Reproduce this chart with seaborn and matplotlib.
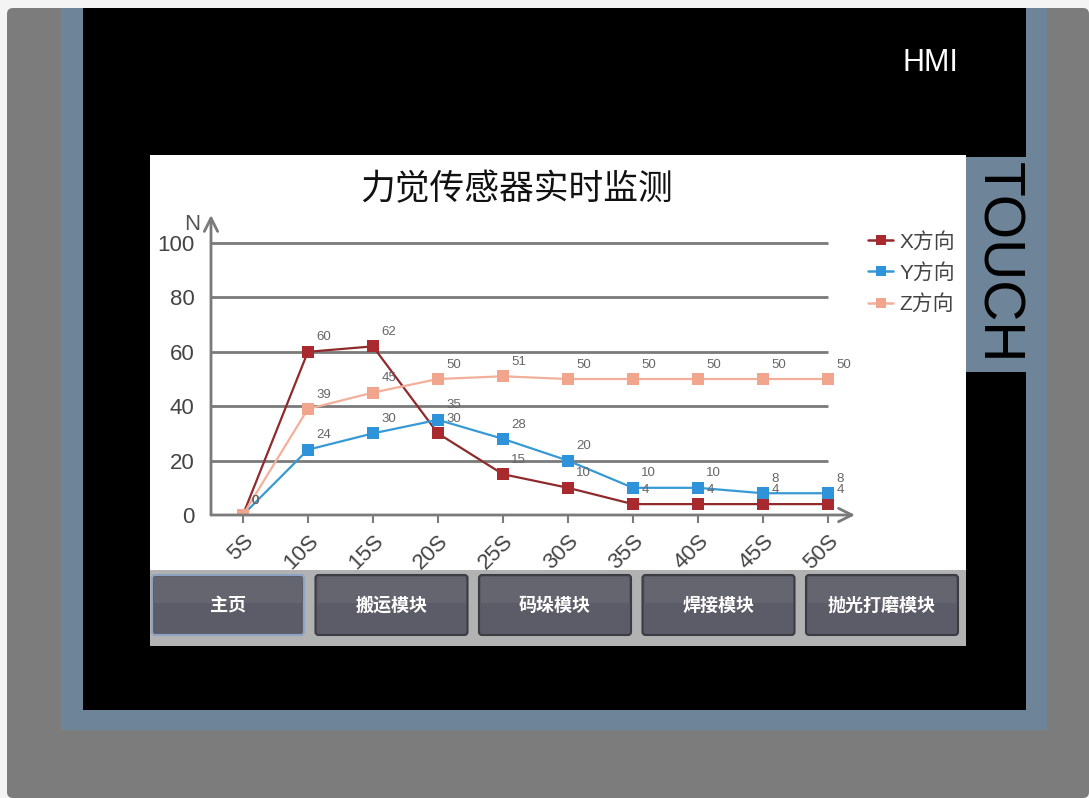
import numpy as np
import pandas as pd
import matplotlib
matplotlib.use('Agg')
import matplotlib.pyplot as plt
import seaborn as sns
from matplotlib.patches import Rectangle, FancyBboxPatch
from matplotlib.lines import Line2D

# ---------------- data ----------------
times = ['5S', '10S', '15S', '20S', '25S', '30S', '35S', '40S', '45S', '50S']
x_force = [0, 60, 62, 30, 15, 10, 4, 4, 4, 4]
y_force = [0, 24, 30, 35, 28, 20, 10, 10, 8, 8]
z_force = [0, 39, 45, 50, 51, 50, 50, 50, 50, 50]
series_names = ['X方向', 'Y方向', 'Z方向']
y_ticks = [0, 20, 40, 60, 80, 100]
title_text = '力觉传感器实时监测'
button_labels = ['主页', '搬运模块', '码垛模块', '焊接模块', '抛光打磨模块']

line_colors = {'X方向': '#8f2a2c', 'Y方向': '#3799d6', 'Z方向': '#f2b09a'}
marker_colors = {'X方向': '#a82a2e', 'Y方向': '#2e93d8', 'Z方向': '#f0a58c'}

sns.set_theme(style='white')
plt.rcParams['font.family'] = ['Liberation Sans', 'Noto Sans CJK SC', 'DejaVu Sans']

W, H = 1089, 798
fig = plt.figure(figsize=(W / 100, H / 100), dpi=100)
fig.patch.set_facecolor('#f4f4f4')

# background "device" axes in pixel coordinates
bg = fig.add_axes([0, 0, 1, 1], zorder=0)
bg.set_xlim(0, W)
bg.set_ylim(H, 0)
bg.axis('off')


def rect(x0, y0, x1, y1, color):
    bg.add_patch(Rectangle((x0, y0), x1 - x0, y1 - y0, facecolor=color,
                           edgecolor='none'))


bg.add_patch(FancyBboxPatch((7, 8), W - 7, H - 8, boxstyle='round,pad=0,rounding_size=6',
                            facecolor='#7c7c7c', edgecolor='none'))
rect(61, 8, 1047, 730, '#6d8499')     # bezel
rect(83, 8, 1026, 710, '#000000')     # black frame
rect(966, 157, 1026, 372, '#6d8499')  # TOUCH strip
rect(150, 155, 966, 646, '#ffffff')   # screen
rect(150, 570, 966, 646, '#b2b2b2')   # button band

bg.text(930, 63, 'HMI', color='white', fontsize=22, ha='center', va='center',
        family=['Liberation Sans'])
bg.text(997, 263, 'TOUCH', color='black', fontsize=41, rotation=-90,
        ha='center', va='center', family=['Liberation Sans'])

# buttons
bx0, pitch, bw = 152, 163.5, 152
for i, lab in enumerate(button_labels):
    x0 = bx0 + i * pitch
    ec = '#8ea3c2' if i == 0 else '#3c3d44'
    bg.add_patch(FancyBboxPatch((x0, 575), bw, 60, boxstyle='round,pad=0,rounding_size=3',
                                facecolor='#5b5c67', edgecolor=ec, linewidth=1.5))
    bg.add_patch(Rectangle((x0 + 2, 577), bw - 4, 26, facecolor='#64656f', edgecolor='none'))
    bg.text(x0 + bw / 2, 605, lab, color='white', fontsize=13, fontweight='bold',
            ha='center', va='center', family=['Noto Sans CJK SC'])

# title and axis unit
bg.text(517, 190, title_text, color='#111111', fontsize=25, ha='center', va='center',
        family=['Noto Sans CJK SC'], fontweight='medium')
bg.text(192, 225, 'N', color='#555555', fontsize=16, ha='center', va='center')

# ---------------- chart ----------------
ax = fig.add_axes([211 / W, 1 - 515 / H, (855 - 211) / W, (515 - 215) / H], zorder=2)
ax.set_facecolor('none')

df = pd.DataFrame({
    'time': times * 3,
    'force': x_force + y_force + z_force,
    'dir': [series_names[0]] * len(times) + [series_names[1]] * len(times) + [series_names[2]] * len(times),
})

ax.hlines(y_ticks[1:], -0.49, len(times) - 1, color='#7a7a7a', linewidth=2, zorder=0)

sns.lineplot(data=df, x='time', y='force', hue='dir', hue_order=series_names,
             palette=line_colors, marker='s', markersize=9, markeredgewidth=0,
             linewidth=1.6, sort=False, ax=ax, legend=False, zorder=3)
for ln, name in zip(ax.lines[-3:], series_names):
    ln.set_markerfacecolor(marker_colors[name])

for name, vals in zip(series_names, [x_force, y_force, z_force]):
    for i, v in enumerate(vals):
        ax.annotate(str(v), (i, v), xytext=(6, 6), textcoords='offset points',
                    fontsize=9.5, color='#666666', ha='left', va='bottom', zorder=4)

ax.set_xlim(-0.49, 9.415)
ax.set_ylim(0, 110.3)
for sp in ax.spines.values():
    sp.set_visible(False)
ax.set_xlabel('')
ax.set_ylabel('')
ax.set_yticks(y_ticks)
ax.set_xticks(range(len(times)))
ax.set_xticklabels(times, rotation=45, ha='right', va='top', rotation_mode='anchor')
ax.tick_params(axis='y', length=0, pad=12, labelsize=16, labelcolor='#444444')
ax.tick_params(axis='x', length=6, width=1.5, color='#7a7a7a', pad=5,
               labelsize=16, labelcolor='#444444', bottom=True)

arrow = dict(arrowstyle='->', color='#7a7a7a', lw=2, mutation_scale=24, shrinkA=0, shrinkB=0)
ax.annotate('', xy=(1, 0), xytext=(0, 0), xycoords='axes fraction', arrowprops=arrow)
ax.annotate('', xy=(0, 1), xytext=(0, 0), xycoords='axes fraction', arrowprops=arrow)

handles = [Line2D([], [], color=line_colors[n], marker='s', markersize=7,
                  markerfacecolor=marker_colors[n], markeredgewidth=0, linewidth=1.8)
           for n in series_names]
leg = ax.legend(handles, series_names, loc='upper left', bbox_to_anchor=(858 / W, 1 - 221 / H),
                bbox_transform=fig.transFigure, frameon=False, fontsize=15,
                handlelength=1.2, handletextpad=0.3, labelspacing=0.55, borderpad=0)
for t in leg.get_texts():
    t.set_color('#444444')

fig.savefig('out.png', dpi=100)
